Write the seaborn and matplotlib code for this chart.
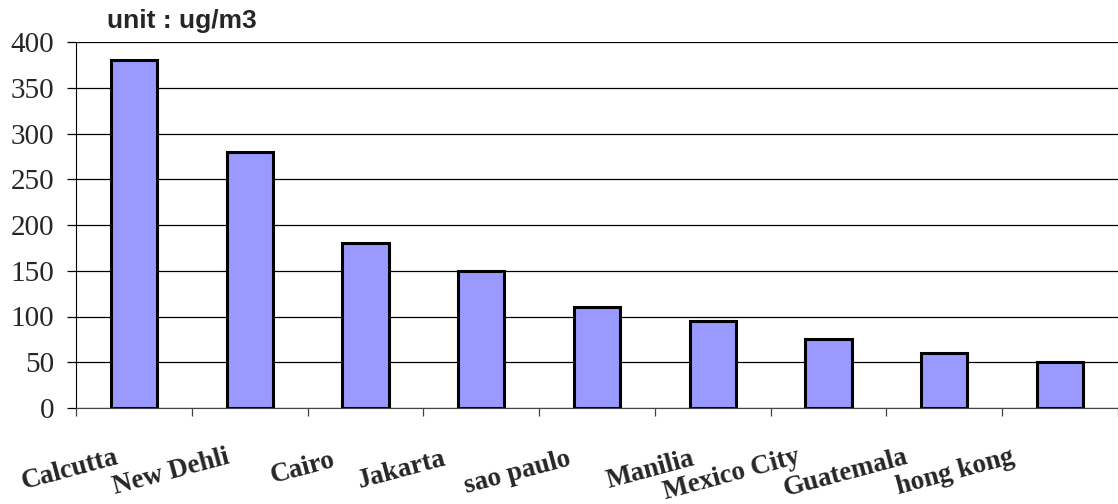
import numpy as np
import seaborn as sns
import matplotlib.pyplot as plt
import matplotlib.transforms as mtrans
import pandas as pd

cities = ['Calcutta', 'New Dehli', 'Cairo', 'Jakarta', 'sao paulo',
          'Manilia', 'Mexico City', 'Guatemala', 'hong kong']
values = [380, 280, 180, 150, 110, 95, 75, 60, 50]
yticks = [0, 50, 100, 150, 200, 250, 300, 350, 400]

# Excel-style staggered label offsets (pixels, x then down)
label_dx = [-64, -79, -63, -80, -80, -62, -97, -99, -105]
label_dy = [62, 64, 60, 62, 64, 62, 66, 65, 64]

df = pd.DataFrame({'city': cities, 'value': values})

sns.set_style('white')
fig = plt.figure(figsize=(11.18, 5.04), dpi=100)
ax = fig.add_axes([76 / 1118, 1 - 408 / 504, 1 - 76 / 1118, (408 - 42) / 504])

sns.barplot(data=df, x='city', y='value', color='#9999FF', saturation=1,
            edgecolor='black', linewidth=2.2, width=0.4, ax=ax, zorder=3)

ax.set_xlim(-0.5, len(cities) - 0.5)
ax.set_ylim(0, 400)
ax.set_yticks(yticks)
ax.yaxis.grid(True, color='black', linewidth=0.9)
ax.set_axisbelow(True)
ax.set_xlabel('')
ax.set_ylabel('')

for s in ['top', 'right']:
    ax.spines[s].set_visible(False)
ax.spines['left'].set_color('black')
ax.spines['bottom'].set_color('#444444')

ax.tick_params(axis='y', length=6.5, width=0.9, color='black', pad=9,
               labelsize=21, left=True)
for lab in ax.get_yticklabels():
    lab.set_fontfamily('Liberation Serif')

# category boundary ticks
ax.set_xticks(np.arange(len(cities) + 1) - 0.5, minor=True)
ax.tick_params(axis='x', which='minor', length=6, width=0.9, color='#444444', bottom=True)
ax.tick_params(axis='x', which='major', length=0, pad=6)
ax.set_xticks(range(len(cities)))
ax.set_xticklabels(cities, rotation=15, ha='center', va='center',
                   rotation_mode='anchor', fontsize=19.5, fontweight='bold',
                   fontfamily='Liberation Serif')
for lab, dx, dy in zip(ax.get_xticklabels(), label_dx, label_dy):
    off = mtrans.ScaledTranslation(dx / 100, -(dy - 8) / 100, fig.dpi_scale_trans)
    lab.set_transform(lab.get_transform() + off)

fig.text(107 / 1118, 1 - 21 / 504, 'unit : ug/m3', fontsize=19, fontweight='bold',
         fontfamily='Liberation Sans', va='center', ha='left')

fig.savefig('out.png', dpi=100)
